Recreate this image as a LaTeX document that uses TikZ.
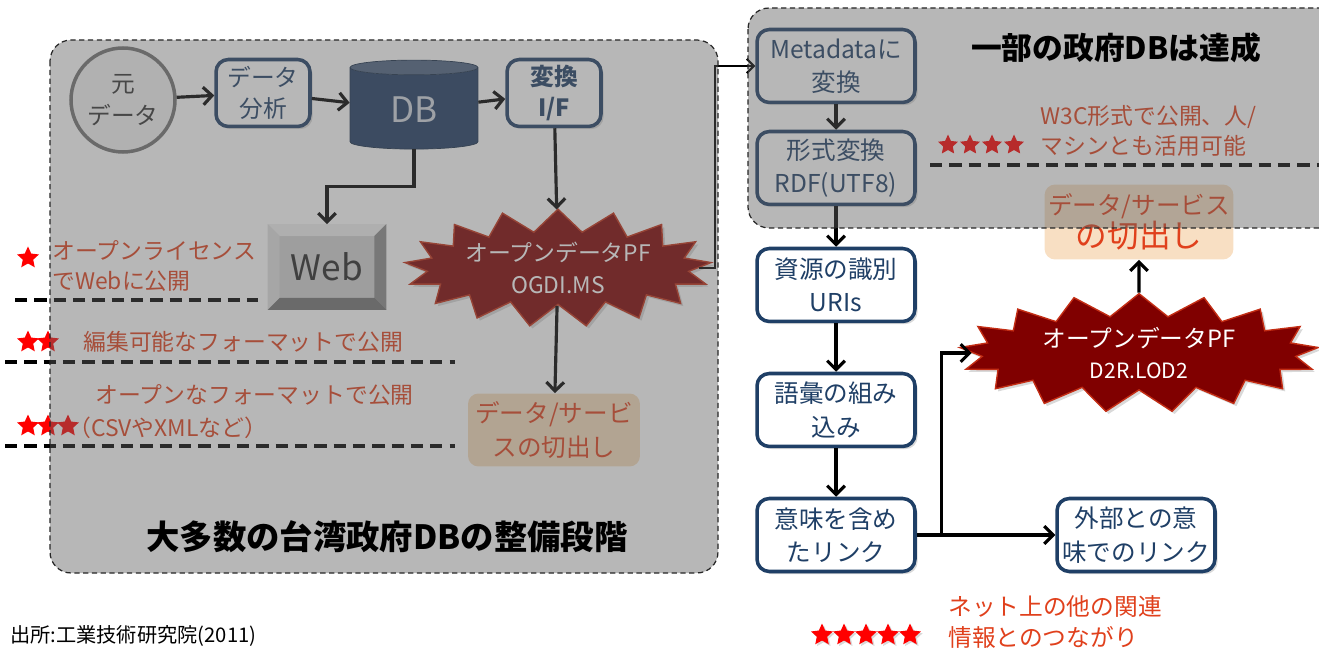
\documentclass[tikz,border=0pt]{standalone}
\usepackage{fontspec}
\setmainfont{Noto Sans CJK JP}
\usetikzlibrary{shapes.geometric,shapes.symbols,arrows.meta,calc,shadows}

\definecolor{navy}{HTML}{1F3F66}
\definecolor{dbblue}{HTML}{1F3B63}
\definecolor{burst}{HTML}{800000}
\definecolor{labred}{HTML}{E0401C}
\definecolor{cutfill}{HTML}{F7DCBC}
\definecolor{veil}{HTML}{606060}

\tikzstyle{flowbox}=[rectangle,rounded corners=7pt,draw=navy,line width=2pt,fill=white,text=navy,align=center,minimum width=3.16cm,minimum height=1.46cm,inner sep=2pt,font=\fontsize{14}{19}\selectfont,drop shadow={opacity=0.3,shadow xshift=1.5pt,shadow yshift=-1.5pt}]
\tikzstyle{smallbox}=[flowbox,minimum width=1.88cm,minimum height=1.34cm,font=\fontsize{13.5}{18}\selectfont]
\tikzstyle{cutbox}=[rectangle,rounded corners=6pt,fill=cutfill,text=labred,align=center,minimum width=3.44cm,minimum height=1.46cm,inner sep=2pt]
\tikzstyle{burstnode}=[starburst,starburst points=17,starburst point height=0.45cm,random starburst=0,fill=burst,draw=labred!70!burst,line width=0.8pt,text=white,align=center,inner sep=0pt,drop shadow={opacity=0.3,shadow xshift=1.5pt,shadow yshift=-1.5pt}]
\tikzstyle{edge}=[draw,line width=1.8pt,-{Straight Barb[length=5pt,width=10pt]}]
\tikzstyle{thinedge}=[draw,line width=1.2pt,-{Straight Barb[length=4pt,width=8pt]}]
\tikzstyle{divider}=[draw,line width=1.8pt,dash pattern=on 7pt off 4pt]
\tikzstyle{redstar}=[star,star points=5,star point ratio=2.1,fill=red,minimum size=0.46cm,inner sep=0pt]
\tikzstyle{remark}=[text=labred,align=left,anchor=west,inner sep=0pt,font=\fontsize{13}{17}\selectfont]
\tikzstyle{panel}=[draw=black!85,densely dashed,line width=0.7pt,rounded corners=12pt,fill=veil,fill opacity=0.45]

\begin{document}
\begin{tikzpicture}[x=0.02cm,y=-0.02cm]
\useasboundingbox (0,0) rectangle (1319,648);

% left stage: source data to open data PF
    \node[circle,draw=black!55,line width=2pt,fill=black!4,minimum size=1.6cm,text=black!80,align=center,font=\fontsize{13.5}{18}\selectfont] (moto) at (123,100) {元\\データ};
    \node[smallbox] (bunseki) at (263,93) {データ\\分析};
    \node[cylinder,shape border rotate=90,aspect=0.25,minimum width=2.56cm,minimum height=1.78cm,draw=navy!70!black,cylinder uses custom fill,cylinder body fill=dbblue,cylinder end fill=dbblue!80!white,text=white!80!navy,font=\fontsize{20}{24}\selectfont] (db) at (414,110) {DB};
    \node[smallbox,font=\bfseries\fontsize{13.5}{18}\selectfont] (henkan) at (554,93) {変換\\I/F};

% Web box with bevels
    \node[rectangle,fill=black!18,minimum width=2.36cm,minimum height=1.7cm] (webout) at (327,267) {};
    \fill[black!6] (webout.north west) -- (webout.north east) -- ($(webout.north east)+(-12,12)$) -- ($(webout.north west)+(12,12)$) -- cycle;
    \fill[black!12] (webout.north west) -- (webout.south west) -- ($(webout.south west)+(12,-12)$) -- ($(webout.north west)+(12,12)$) -- cycle;
    \fill[black!45] (webout.north east) -- (webout.south east) -- ($(webout.south east)+(-12,-12)$) -- ($(webout.north east)+(-12,12)$) -- cycle;
    \fill[black!55] (webout.south west) -- (webout.south east) -- ($(webout.south east)+(-12,-12)$) -- ($(webout.south west)+(12,-12)$) -- cycle;
    \node[text=black!85,font=\fontsize{20}{24}\selectfont] (web) at (327,267) {Web};

    \node[burstnode,minimum width=5.6cm,minimum height=1.6cm,font=\fontsize{13}{18}\selectfont] (ogdi) at (558,268) {オープンデータPF\\OGDI.MS};
    \node[cutbox,font=\fontsize{14}{19}\selectfont] (cutL) at (554,430) {データ/サービ\\スの切出し};

% star ratings
    \foreach \name/\n/\y in {one/1/258, two/2/342, three/3/426}
        \foreach \j in {1,...,\n}
            \node[redstar] (star\name\j) at ({8+20*\j},\y) {};
    \foreach \j in {1,...,4}
        \node[redstar,minimum size=0.42cm] (starfour\j) at ({926+22*\j},145) {};
    \foreach \j in {1,...,5}
        \node[redstar,drop shadow={opacity=0.3,shadow xshift=1pt,shadow yshift=-1pt}] (starfive\j) at ({800+22*\j},635) {};

    \node[remark] (lic) at (52,266) {オープンライセンス\\でWebに公開};
    \node[remark] (edit) at (83,342) {編集可能なフォーマットで公開};
    \node[remark] (openfmt) at (95,395) {オープンなフォーマットで公開};
    \node[remark] (csv) at (68,428) {（CSVやXMLなど）};
    \node[remark] (w3c) at (1040,131) {W3C形式で公開、人/\\マシンとも活用可能};
    \node[remark,font=\fontsize{13.5}{18}\selectfont] (net) at (948,622) {ネット上の他の関連\\情報とのつながり};

    \path[divider] (15,300) -- (258,300);
    \path[divider] (5,362) -- (455,362);
    \path[divider] (5,446) -- (455,446);
    \path[divider] (930,165) -- (1319,165);

% right stage: linked data steps
  \foreach \pos/\name/\lbl in {{(836,66)/meta/{Metadataに\\変換}}, {(836,168)/keishiki/{形式変換\\RDF(UTF8)}}, {(836,285)/shigen/{資源の識別\\URIs}}, {(836,410)/goi/{語彙の組み\\込み}}, {(836,535)/imi/{意味を含め\\たリンク}}, {(1136,535)/gaibu/{外部との意\\味でのリンク}}}
        \node[flowbox] (\name) at \pos {\lbl};

    \node[burstnode,minimum width=7.2cm,minimum height=1.8cm,font=\fontsize{13.5}{18}\selectfont] (lod) at (1139,353) {オープンデータPF\\{\fontsize{12}{15}\selectfont D2R.LOD2}};
    \node[cutbox,minimum width=3.76cm,minimum height=1.5cm,fill opacity=0.9,text opacity=1] (cutR) at (1139,222) {{\fontsize{14}{18}\selectfont データ/サービス}\\{\fontsize{18}{22}\selectfont の切出し}};

    % Connect the steps
    \path[edge] (moto) -- (bunseki);
    \path[edge] (bunseki) -- (db);
    \path[edge] (db) -- (henkan);
    \path[edge] (db.south) -- ++(0,37) -| (webout.north);
    \path[edge] (henkan) -- (ogdi);
    \path[edge] (ogdi) -- (cutL);
    \path[thinedge] (ogdi.east) -- ++(16,0) |- (meta.west);
    \foreach \source/\dest in {meta/keishiki, keishiki/shigen, shigen/goi, goi/imi, imi/gaibu}
        \path[edge] (\source) -- (\dest);
    \coordinate (fork) at ($(imi.east)+(25,0)$);
    \path[edge] (fork) |- (lod.west);
    \path[edge] (lod) -- (cutR);

% grey veils of the two stages
    \path[panel] (50,40) rectangle (718,573);
    \path[panel] (748,8) rectangle (1340,228);

    \node[font=\bfseries\fontsize{19}{23}\selectfont] (stage) at (387,537) {大多数の台湾政府DBの整備段階};
    \node[font=\bfseries\fontsize{17.5}{21}\selectfont] (done) at (1116,48) {一部の政府DBは達成};
    \node[anchor=west,inner sep=0pt,font=\fontsize{11.5}{14}\selectfont] (src) at (10,636) {出所:工業技術研究院(2011)};

\end{tikzpicture}
\end{document}
